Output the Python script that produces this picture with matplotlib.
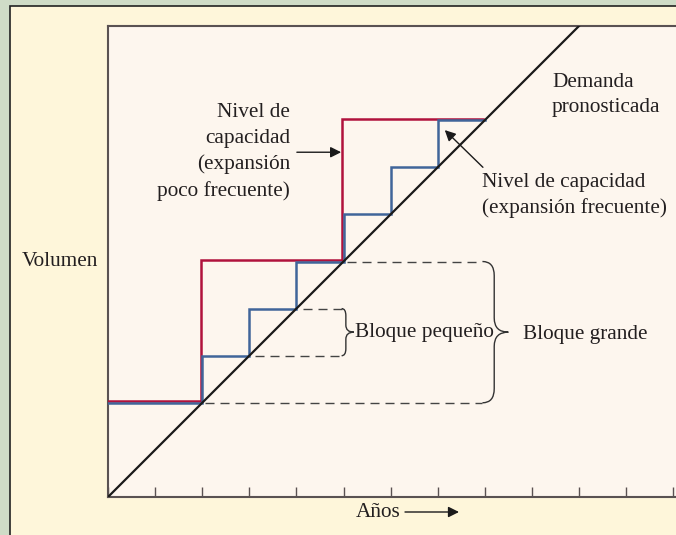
import matplotlib
matplotlib.use("Agg")
import matplotlib.pyplot as plt
from matplotlib.patches import Rectangle, PathPatch
from matplotlib.path import Path
import matplotlib.transforms as mtransforms

# datos del gráfico
years = list(range(0, 13))
demand_x = [0, 12]
demand_y = [0, 12]
big_x = [0, 2, 5, 8]          # expansión poco frecuente
big_y = [2, 5, 8, 8]
small_x = [0, 2, 3, 4, 5, 6, 7, 8]   # expansión frecuente
small_y = [2, 3, 4, 5, 6, 7, 8, 8]
small_block = (3, 4)
big_block = (2, 5)

W, H = 676, 535
plt.rcParams['font.family'] = ['Liberation Serif', 'DejaVu Serif']
plt.rcParams['lines.scale_dashes'] = False
FS = 15.3
TXT = '#231f20'
RED = '#b0123c'
BLUE = '#40659a'

fig = plt.figure(figsize=(W / 100, H / 100), dpi=100, facecolor='#cfdcc7')

# panel crema
fig.patches.append(Rectangle((10 / W, -0.1), 1.2, 1 - 6 / H + 0.1, transform=fig.transFigure,
                             facecolor='#fef6da', edgecolor='#222222', lw=1.2, zorder=-10))

ax = fig.add_axes([108 / W, (H - 497) / H, (W - 108) / W, 471 / H], zorder=1)
ax.set_facecolor('#fdf6ee')
ax.set_xlim(0, (W - 108) / 47.1)
ax.set_ylim(0, 10)
for side in ['left', 'top', 'bottom']:
    ax.spines[side].set_color('#5a5252')
    ax.spines[side].set_linewidth(1.5)
ax.spines['right'].set_visible(False)
ax.set_xticks(years)
ax.set_yticks([])
ax.tick_params(axis='x', direction='in', length=7.5, width=1, color='#5a5252', labelbottom=False)

# niveles de capacidad
off = mtransforms.offset_copy(ax.transData, fig=fig, x=-1.5, y=1.5, units='dots')
ax.step(big_x, big_y, where='post', color=RED, lw=1.8, transform=off, zorder=3, solid_joinstyle='miter')
ax.step(small_x, small_y, where='post', color=BLUE, lw=1.8, zorder=3, solid_joinstyle='miter')
ax.plot(demand_x, demand_y, color='#1a1a1a', lw=1.6, zorder=4)

# bloques con llaves
dash = (0, (6.5, 4.3))


def brace(x0, xv, xt, ybot, ytop, r):
    ym = (ybot + ytop) / 2
    verts = [(x0, ytop), (xv, ytop), (xv, ytop - r), (xv, ym + r), (xv, ym), (xt, ym),
             (xv, ym), (xv, ym - r), (xv, ybot + r), (xv, ybot), (x0, ybot)]
    codes = [Path.MOVETO, Path.CURVE3, Path.CURVE3, Path.LINETO, Path.CURVE3, Path.CURVE3,
             Path.CURVE3, Path.CURVE3, Path.LINETO, Path.CURVE3, Path.CURVE3]
    ax.add_patch(PathPatch(Path(verts, codes), facecolor='none', edgecolor='#333333', lw=1.0, zorder=2))


lo, hi = small_block
ax.plot([lo + 0.12, 4.96], [lo, lo], color='#444444', lw=1.0, ls=dash)
ax.plot([hi + 0.14, 4.96], [hi, hi], color='#444444', lw=1.0, ls=dash)
brace(4.96, 5.05, 5.22, lo, hi, 0.15)

lo, hi = big_block
ax.plot([lo + 0.06, 7.95], [lo, lo], color='#444444', lw=1.0, ls=dash)
ax.plot([hi + 0.07, 7.95], [hi, hi], color='#444444', lw=1.0, ls=dash)
brace(7.95, 8.2, 8.5, lo, hi, 0.3)

# flechas
aprops = dict(arrowstyle='-|>', color='#1a1a1a', lw=1.0, mutation_scale=16, shrinkA=0, shrinkB=0)
ax.annotate('', xy=(4.95, 7.32), xytext=(4.01, 7.32), arrowprops=aprops)
ax.annotate('', xy=(7.15, 7.79), xytext=(7.96, 7.0), arrowprops=aprops)
ax.annotate('', xy=(459 / W, 1 - 512 / H), xytext=(405 / W, 1 - 512 / H),
            xycoords='figure fraction', textcoords='figure fraction', arrowprops=aprops,
            annotation_clip=False)


def label(x, y, s, ha='left'):
    fig.text(x / W, 1 - y / H, s, ha=ha, va='baseline', fontsize=FS, color=TXT, zorder=5)


label(552, 87, 'Demanda')
label(552, 112, 'pronosticada')
for s, yb in zip(['Nivel de', 'capacidad', '(expansión', 'poco frecuente)'], [117, 143, 169, 196]):
    label(290, yb, s, ha='right')
label(482, 187, 'Nivel de capacidad')
label(482, 213, '(expansión frecuente)')
label(355, 337, 'Bloque pequeño')
label(523, 339, 'Bloque grande')
label(22, 266, 'Volumen')
label(356, 517, 'Años')

fig.savefig('out.png', dpi=100, facecolor=fig.get_facecolor())
